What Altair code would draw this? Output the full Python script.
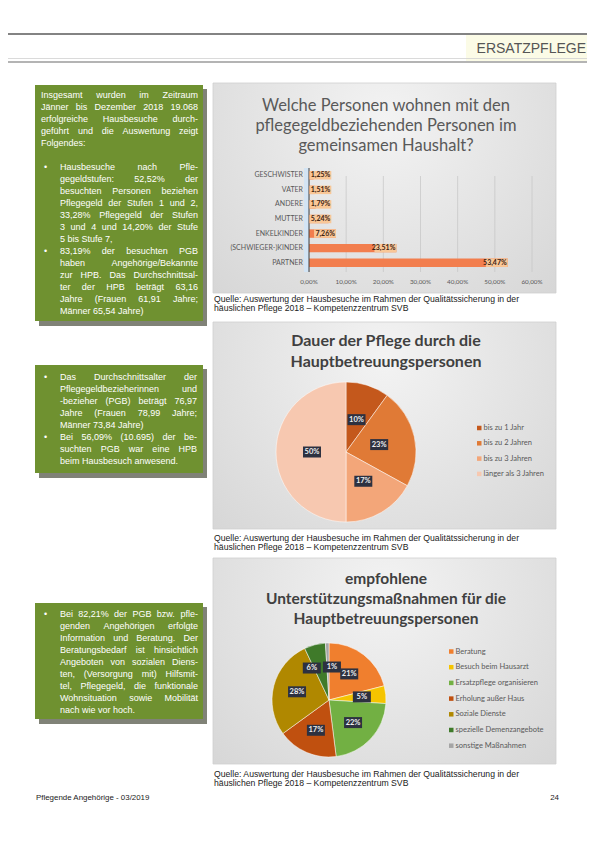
import altair as alt
import pandas as pd

# ---------------- data ----------------
header_title = "ERSATZPFLEGE"

box1_para = ["Insgesamt wurden im Zeitraum",
             "Jänner bis Dezember 2018 19.068",
             "erfolgreiche Hausbesuche durch-",
             "geführt und die Auswertung zeigt",
             "Folgendes:"]
box1_bullet1 = ["Hausbesuche nach Pfle-",
                "gegeldstufen: 52,52% der",
                "besuchten Personen beziehen",
                "Pflegegeld der Stufen 1 und 2,",
                "33,28% Pflegegeld der Stufen",
                "3 und 4 und 14,20% der Stufe",
                "5 bis Stufe 7,"]
box1_bullet2 = ["83,19% der besuchten PGB",
                "haben Angehörige/Bekannte",
                "zur HPB. Das Durchschnittsal-",
                "ter der HPB beträgt 63,16",
                "Jahre (Frauen 61,91 Jahre;",
                "Männer 65,54 Jahre)"]
box2_bullet1 = ["Das Durchschnittsalter der",
                "Pflegegeldbezieherinnen und",
                "-bezieher (PGB) beträgt 76,97",
                "Jahre (Frauen 78,99 Jahre;",
                "Männer 73,84 Jahre)"]
box2_bullet2 = ["Bei 56,09% (10.695) der be-",
                "suchten PGB war eine HPB",
                "beim Hausbesuch anwesend."]
box3_bullet1 = ["Bei 82,21% der PGB bzw. pfle-",
                "genden Angehörigen erfolgte",
                "Information und Beratung. Der",
                "Beratungsbedarf ist hinsichtlich",
                "Angeboten von sozialen Diens-",
                "ten, (Versorgung mit) Hilfsmit-",
                "tel, Pflegegeld, die funktionale",
                "Wohnsituation sowie Mobilität",
                "nach wie vor hoch."]

chart1_title = ["Welche Personen wohnen mit den",
                "pflegegeldbeziehenden Personen im",
                "gemeinsamen Haushalt?"]
bar_cats = ["GESCHWISTER", "VATER", "ANDERE", "MUTTER", "ENKELKINDER",
            "(SCHWIEGER-)KINDER", "PARTNER"]
bar_vals = [1.25, 1.51, 1.79, 5.24, 7.26, 23.51, 53.47]
bar_labels = ["1,25%", "1,51%", "1,79%", "5,24%", "7,26%", "23,51%", "53,47%"]
tick_vals = [0, 10, 20, 30, 40, 50, 60]
tick_labels = ["0,00%", "10,00%", "20,00%", "30,00%", "40,00%", "50,00%", "60,00%"]

chart2_title = ["Dauer der Pflege durch die", "Hauptbetreuungspersonen"]
pie1_cats = ["bis zu 1 Jahr", "bis zu 2 Jahren", "bis zu 3 Jahren", "länger als 3 Jahren"]
pie1_vals = [10, 23, 17, 50]
pie1_labels = ["10%", "23%", "17%", "50%"]
pie1_colors = ["#c4581c", "#e07a36", "#f3a679", "#f7c8b0"]

chart3_title = ["empfohlene", "Unterstützungsmaßnahmen für die", "Hauptbetreuungspersonen"]
pie2_cats = ["Beratung", "Besuch beim Hausarzt", "Ersatzpflege organisieren",
             "Erholung außer Haus", "Soziale Dienste", "spezielle Demenzangebote",
             "sonstige Maßnahmen"]
pie2_vals = [21, 5, 22, 17, 28, 6, 1]
pie2_labels = ["21%", "5%", "22%", "17%", "28%", "6%", "1%"]
pie2_colors = ["#f07f2e", "#f5c400", "#72b043", "#c0500f", "#b08800", "#3f7a2a", "#a5a5a5"]

caption = ["Quelle: Auswertung der Hausbesuche im Rahmen der Qualitätssicherung in der",
           "häuslichen Pflege 2018 – Kompetenzzentrum SVB"]
footer_left = "Pflegende Angehörige - 03/2019"
footer_right = "24"

# ---------------- helpers ----------------
M = 8  # page margin
W, H = 579, 826
one = pd.DataFrame({"a": [0]})

AW = {' ': 278, '!': 278, '%': 889, '(': 333, ')': 333, ',': 278, '-': 333, '.': 278, '/': 278,
      ':': 278, ';': 278, '•': 350, '–': 556,
      'A': 667, 'B': 667, 'C': 722, 'D': 722, 'E': 667, 'F': 611, 'G': 778, 'H': 722, 'I': 278,
      'J': 500, 'K': 667, 'L': 556, 'M': 833, 'N': 722, 'O': 778, 'P': 667, 'Q': 778, 'R': 722,
      'S': 667, 'T': 611, 'U': 722, 'V': 667, 'W': 944, 'X': 667, 'Y': 667, 'Z': 611,
      'a': 556, 'b': 556, 'c': 500, 'd': 556, 'e': 556, 'f': 278, 'g': 556, 'h': 556, 'i': 222,
      'j': 222, 'k': 500, 'l': 222, 'm': 833, 'n': 556, 'o': 556, 'p': 556, 'q': 556, 'r': 333,
      's': 500, 't': 278, 'u': 556, 'v': 500, 'w': 722, 'x': 500, 'y': 500, 'z': 500,
      'ä': 556, 'ö': 556, 'ü': 556, 'ß': 611}


def tw(s, size):
    return sum(AW.get(c, 556) for c in s) / 1000.0 * size


def rect(x1, y1, x2, y2, **kw):
    return alt.Chart(one).mark_rect(**kw).encode(
        x=alt.value(x1 - M), x2=alt.value(x2 - M), y=alt.value(y1 - M), y2=alt.value(y2 - M))


def hline(x1, x2, y, color, w):
    return alt.Chart(one).mark_rule(color=color, strokeWidth=w).encode(
        x=alt.value(x1 - M), x2=alt.value(x2 - M), y=alt.value(y - M))


def label(t, x, y, size, color, font="Liberation Sans", weight="normal", align="left"):
    return alt.Chart(one).mark_text(text=t, fontSize=size, color=color, font=font,
                                    fontWeight=weight, align=align, baseline="middle").encode(
        x=alt.value(x - M), y=alt.value(y - M))


def text_rows(rows, size, color, font="Liberation Sans", weight="normal", align="left"):
    df = pd.DataFrame(rows)
    return alt.Chart(df).mark_text(fontSize=size, color=color, font=font, fontWeight=weight,
                                   align=align, baseline="middle").encode(
        x=alt.X("x:Q", scale=None, axis=None), y=alt.Y("y:Q", scale=None, axis=None), text="t:N")


def lines_rows(lines, x, y0, dy):
    return [{"t": s, "x": x - M, "y": y0 + i * dy - M} for i, s in enumerate(lines)]


FS = 9.0


def justified(lines, x0, x1, y0, dy):
    rows = []
    for i, line in enumerate(lines):
        ws = line.split(" ")
        wds = [tw(w, FS) for w in ws]
        if i < len(lines) - 1 and len(ws) > 1:
            gap = (x1 - x0 - sum(wds)) / (len(ws) - 1)
        else:
            gap = tw(" ", FS)
        x = x0
        for w, wd in zip(ws, wds):
            rows.append({"t": w, "x": x - M, "y": y0 + i * dy - M})
            x += wd + gap
    return rows


layers = []

# ---------------- header ----------------
layers.append(rect(466, 35, 587, 61, fill="#fbfbe6"))
layers.append(hline(8, 587, 34, "#5a5a5a", 1.3))
layers.append(hline(8, 587, 58.5, "#d0d0d0", 0.8))
layers.append(hline(8, 587, 62, "#6a6a6a", 1.2))
layers.append(label(header_title, 586, 48.5, 14, "#555555", align="right"))

# ---------------- green text boxes ----------------
GREEN = "#6f9130"
SHADOW = "#55584a"
boxes = [(35, 85, 203, 321), (35, 365, 203, 473), (35, 603, 203, 719)]
for (x1, y1, x2, y2) in boxes:
    layers.append(rect(x1 + 4, y1 + 4, x2 + 4, y2 + 5, fill=SHADOW, opacity=0.75))
    layers.append(rect(x1, y1, x2, y2, fill=GREEN))

LH = 12
word_rows = []
bullet_rows = []
word_rows += justified(box1_para, 41, 198, 95, LH)
word_rows += justified(box1_bullet1, 60, 198, 167, LH)
bullet_rows.append({"t": "•", "x": 44 - M, "y": 167 - M})
word_rows += justified(box1_bullet2, 60, 198, 251, LH)
bullet_rows.append({"t": "•", "x": 44 - M, "y": 251 - M})
word_rows += justified(box2_bullet1, 60, 197, 377, LH)
bullet_rows.append({"t": "•", "x": 44 - M, "y": 377 - M})
word_rows += justified(box2_bullet2, 60, 197, 437, LH)
bullet_rows.append({"t": "•", "x": 44 - M, "y": 437 - M})
word_rows += justified(box3_bullet1, 60, 198, 614, LH)
bullet_rows.append({"t": "•", "x": 44 - M, "y": 614 - M})
layers.append(text_rows(word_rows, FS, "white"))
layers.append(text_rows(bullet_rows, FS, "white"))

# ---------------- chart panels ----------------
GRAD = {"gradient": "radial", "x1": 0.5, "y1": 0.3, "r1": 0.0, "x2": 0.5, "y2": 0.3, "r2": 0.8,
        "stops": [{"offset": 0, "color": "#f3f3f3"}, {"offset": 1, "color": "#d3d3d3"}]}
panels = [(213, 83, 556, 293), (213, 322, 556, 529), (213, 558, 556, 764)]
for (x1, y1, x2, y2) in panels:
    layers.append(rect(x1, y1, x2, y2, fill=GRAD, stroke="#cfcfcf", strokeWidth=0.8))

CFONT = "Lato"
# captions
cap_size = 306 / tw(caption[0], 1)
for yy in (299, 538, 774):
    layers.append(text_rows(lines_rows(caption, 214, yy, 8.5), cap_size, "#222222"))

# footer
foot_size = 114 / tw(footer_left, 1)
layers.append(label(footer_left, 36, 798, foot_size, "#222222"))
layers.append(label(footer_right, 559, 798, foot_size, "#222222", align="right"))

# ---------------- chart 1: bar chart ----------------
layers.append(text_rows(lines_rows(chart1_title, 386, 106, 20), 16.5, "#595959", font=CFONT,
                        align="center"))

xs = alt.Scale(domain=[0, 60], range=[309 - M, 532 - M])
ys = alt.Scale(domain=bar_cats, range=[168 - M, 270 - M], paddingInner=0.42, paddingOuter=0.21)
tick_df = pd.DataFrame({"v": tick_vals, "lab": tick_labels})
bar_df = pd.DataFrame({"cat": bar_cats, "v": bar_vals, "lab": bar_labels})

layers.append(alt.Chart(tick_df).mark_rule(color="#c4c4c4", strokeWidth=1, opacity=0.7).encode(
    x=alt.X("v:Q", scale=xs, axis=None), y=alt.value(176 - M), y2=alt.value(272 - M)))
layers.append(rect(304, 168, 309, 272, fill="#d3e4f4"))
layers.append(alt.Chart(tick_df).mark_text(fontSize=6.3, color="#595959", font=CFONT,
                                           baseline="middle").encode(
    x=alt.X("v:Q", scale=xs, axis=None), y=alt.value(282 - M), text="lab:N"))
layers.append(alt.Chart(bar_df).mark_bar(color="#f27e4e").encode(
    x=alt.X("v:Q", scale=xs, axis=None), y=alt.Y("cat:N", scale=ys, axis=None)))
layers.append(alt.Chart(tick_df).transform_filter("datum.v == 0").mark_rule(
    color="#404040", strokeWidth=1).encode(
    x=alt.X("v:Q", scale=xs, axis=None), y=alt.value(168 - M), y2=alt.value(272 - M)))
lab_base = alt.Chart(bar_df).transform_calculate(lx="max(datum.v, 6)", bx1="max(datum.v, 6) - 5.9")
layers.append(lab_base.mark_bar(color="#f9c797").encode(
    x=alt.X("bx1:Q", scale=xs, axis=None), x2="lx:Q", y=alt.Y("cat:N", scale=ys, axis=None)))
layers.append(lab_base.mark_text(fontSize=7, fontWeight="bold", color="#3b2314", font=CFONT,
                                 align="right", baseline="middle", dx=-1).encode(
    x=alt.X("lx:Q", scale=xs, axis=None), y=alt.Y("cat:N", scale=ys, axis=None), text="lab:N"))
layers.append(alt.Chart(bar_df).mark_text(fontSize=7, color="#595959", font=CFONT, align="right",
                                          baseline="middle").encode(
    x=alt.value(303 - M), y=alt.Y("cat:N", scale=ys, axis=None), text="cat:N"))


# ---------------- pies ----------------
def pie(cats, vals, labels, colors, cx, cy, r, lr, leg_x, leg_y0, leg_dy):
    df = pd.DataFrame({"cat": cats, "v": vals, "lab": labels, "col": colors,
                       "o": list(range(len(cats)))})
    base = alt.Chart(df)
    out = [base.mark_arc(radius=r, stroke="white", strokeWidth=0.5).encode(
        theta=alt.Theta("v:Q", stack=True), color=alt.Color("col:N", scale=None),
        order=alt.Order("o:Q"), x=alt.value(cx - M), y=alt.value(cy - M))]
    # small neighbouring slices: spread their labels apart a little
    pos = base.transform_window(cum="sum(v)", sort=[alt.SortField("o")]).transform_window(
        prev="lag(v)", sort=[alt.SortField("o")]).transform_joinaggregate(
        tot="sum(v)").transform_calculate(
        a="(datum.cum - datum.v / 2) / datum.tot * 2 * PI",
        shift="datum.v < 4 ? 4 : (datum.v < 8 && datum.o > 1 ? -9 : 0)").transform_calculate(
        lx=f"{cx - M} + {lr} * sin(datum.a) + datum.shift",
        ly=f"{cy - M} - {lr} * cos(datum.a)").transform_calculate(
        bx1="datum.lx - 9", bx2="datum.lx + 9", by1="datum.ly - 5.5", by2="datum.ly + 5.5")
    out.append(pos.mark_rect(fill="#2d3140").encode(
        x=alt.X("bx1:Q", scale=None, axis=None), x2="bx2:Q",
        y=alt.Y("by1:Q", scale=None, axis=None), y2="by2:Q"))
    out.append(pos.mark_text(fontSize=7.5, fontWeight="bold", color="#eeeeee", font=CFONT,
                             baseline="middle").encode(
        x=alt.X("lx:Q", scale=None, axis=None), y=alt.Y("ly:Q", scale=None, axis=None),
        text="lab:N"))
    leg = pd.DataFrame({"t": cats, "col": colors,
                        "mx1": [leg_x - M] * len(cats), "mx2": [leg_x + 4.5 - M] * len(cats),
                        "tx": [leg_x + 6.5 - M] * len(cats),
                        "y": [leg_y0 + i * leg_dy - M for i in range(len(cats))]})
    leg["y1"] = leg["y"] - 2.25
    leg["y2"] = leg["y"] + 2.25
    out.append(alt.Chart(leg).mark_rect().encode(
        x=alt.X("mx1:Q", scale=None, axis=None), x2="mx2:Q",
        y=alt.Y("y1:Q", scale=None, axis=None), y2="y2:Q", color=alt.Color("col:N", scale=None)))
    out.append(alt.Chart(leg).mark_text(fontSize=7.5, color="#595959", font=CFONT, align="left",
                                        baseline="middle").encode(
        x=alt.X("tx:Q", scale=None, axis=None), y=alt.Y("y:Q", scale=None, axis=None), text="t:N"))
    return out


layers.append(text_rows(lines_rows(chart2_title, 386, 341, 21), 16, "#404040", font=CFONT,
                        weight="bold", align="center"))
layers += pie(pie1_cats, pie1_vals, pie1_labels, pie1_colors, 346, 452, 70, 34, 477, 428, 15.3)

layers.append(text_rows(lines_rows(chart3_title, 386, 579, 20), 15.5, "#404040", font=CFONT,
                        weight="bold", align="center"))
layers += pie(pie2_cats, pie2_vals, pie2_labels, pie2_colors, 329, 700, 57, 33, 449, 651.5, 15.7)

chart = alt.layer(*layers).properties(
    width=W, height=H, padding=0, autosize="none", background="white"
).resolve_scale(x="independent", y="independent", theta="independent").configure_view(strokeWidth=0)

chart.save("out.html", embed_options={"renderer": "svg", "actions": False})
